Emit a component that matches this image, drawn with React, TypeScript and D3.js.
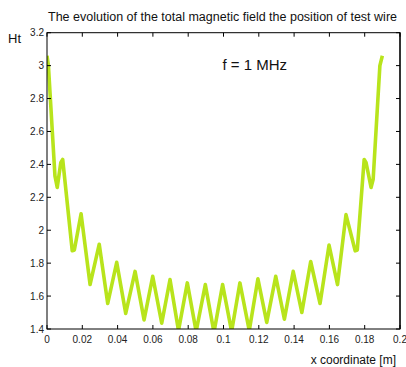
import React from "react";
import * as d3 from "d3";

const xValues = [
  0, 0.0008, 0.0045, 0.0058, 0.0078, 0.0089, 0.0143, 0.0155, 0.0193, 0.0244,
  0.0296, 0.0344, 0.0395, 0.0446, 0.0499, 0.055, 0.0599, 0.065, 0.0697, 0.0745,
  0.0795, 0.0845, 0.0897, 0.0946, 0.0995, 0.1046, 0.1093, 0.1146, 0.1195, 0.1245,
  0.1296, 0.1345, 0.1395, 0.1444, 0.1494, 0.1547, 0.1598, 0.1646, 0.1694, 0.1746,
  0.1758, 0.1797, 0.1808, 0.1836, 0.1848, 0.1886, 0.19,
];
const htValues = [
  3.06, 3.0, 2.33, 2.26, 2.41, 2.43, 1.875, 1.88, 2.1, 1.67,
  1.915, 1.555, 1.805, 1.495, 1.75, 1.455, 1.72, 1.435, 1.7, 1.39,
  1.68, 1.385, 1.67, 1.38, 1.67, 1.385, 1.68, 1.39, 1.705, 1.44,
  1.72, 1.46, 1.75, 1.5, 1.81, 1.555, 1.91, 1.67, 2.095, 1.875,
  1.88, 2.43, 2.41, 2.26, 2.31, 3.0, 3.06,
];
const xTicks = [0, 0.02, 0.04, 0.06, 0.08, 0.1, 0.12, 0.14, 0.16, 0.18, 0.2];
const xTickLabels = ["0", "0.02", "0.04", "0.06", "0.08", "0.1", "0.12", "0.14", "0.16", "0.18", "0.2"];
const yTicks = [1.4, 1.6, 1.8, 2, 2.2, 2.4, 2.6, 2.8, 3, 3.2];
const yTickLabels = ["1.4", "1.6", "1.8", "2", "2.2", "2.4", "2.6", "2.8", "3", "3.2"];

const W = 406;
const H = 367;
const L = 47;
const R = 400;
const T = 32.7;
const B = 329;
const font = "Liberation Sans, Arial, sans-serif";

export default function App() {
  const x = d3.scaleLinear().domain([0, 0.2]).range([L, R]);
  const y = d3.scaleLinear().domain([1.4, 3.2]).range([B, T]);
  const pts: [number, number][] = xValues.map((v, i) => [v, htValues[i]]);
  const line = d3
    .line<[number, number]>()
    .x((d) => x(d[0]))
    .y((d) => y(d[1]));
  const tl = 4;
  return (
    <svg
      width={W}
      height={H}
      style={{ position: "absolute", left: 0, top: 0, background: "#fff" }}
    >
      <defs>
        <clipPath id="plotclip">
          <rect x={L} y={T} width={R - L} height={B - T} />
        </clipPath>
      </defs>
      <rect x={0} y={0} width={W} height={H} fill="#fff" />
      <path
        d={line(pts) || ""}
        fill="none"
        stroke="#b8e41c"
        strokeWidth={3.6}
        strokeLinejoin="round"
        clipPath="url(#plotclip)"
      />
      <rect x={L} y={T} width={R - L} height={B - T} fill="none" stroke="#000" strokeWidth={1} />
      <line x1={R} y1={T} x2={R} y2={B} stroke="#333" strokeWidth={2} />
      {xTicks.map((t, i) => (
        <g key={"x" + i}>
          <line x1={x(t)} x2={x(t)} y1={B} y2={B - tl} stroke="#000" />
          <line x1={x(t)} x2={x(t)} y1={T} y2={T + tl} stroke="#000" />
          <text
            x={x(t)}
            y={343}
            fontSize={10}
            fontFamily={font}
            textAnchor="middle"
            fill="#222"
          >
            {xTickLabels[i]}
          </text>
        </g>
      ))}
      {yTicks.map((t, i) => (
        <g key={"y" + i}>
          <line x1={L} x2={L + tl} y1={y(t)} y2={y(t)} stroke="#000" />
          <line x1={R} x2={R - tl} y1={y(t)} y2={y(t)} stroke="#000" />
          <text
            x={44}
            y={y(t) + 3.5}
            fontSize={10}
            fontFamily={font}
            textAnchor="end"
            fill="#222"
          >
            {yTickLabels[i]}
          </text>
        </g>
      ))}
      <text
        x={48}
        y={21}
        fontSize={12}
        fontFamily={font}
        textLength={349}
        lengthAdjust="spacingAndGlyphs"
        fill="#111"
      >
        The evolution of the total magnetic field the position of test wire
      </text>
      <text x={8} y={43} fontSize={13} fontFamily={font} fill="#111">
        Ht
      </text>
      <text x={222.5} y={69.5} fontSize={15} fontFamily={font} fill="#111">
        f = 1 MHz
      </text>
      <text x={396} y={364} fontSize={12} fontFamily={font} textAnchor="end" fill="#111">
        x coordinate [m]
      </text>
    </svg>
  );
}
